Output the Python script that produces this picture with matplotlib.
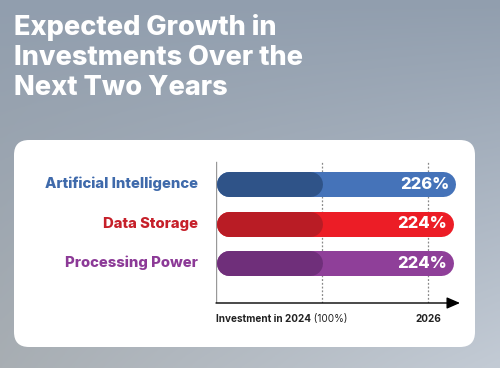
import matplotlib.pyplot as plt
import numpy as np
from matplotlib.patches import FancyBboxPatch

categories = ["Artificial Intelligence", "Data Storage", "Processing Power"]
values = [226, 224, 224]
base_value = 100
target_line = 200
dark_colors = ["#2f5388", "#b91c25", "#6f2f7a"]
light_colors = ["#4573b9", "#ec1d26", "#8f3f99"]
label_colors = ["#3f6aab", "#c6202a", "#8c3a97"]
title_lines = ["Expected Growth in", "Investments Over the", "Next Two Years"]

W, H = 500, 368
fig = plt.figure(figsize=(W / 100, H / 100), dpi=100)

# background gradient
bg = fig.add_axes([0, 0, 1, 1])
yy, xx = np.mgrid[0:1:200j, 0:1:200j]
top = np.array([0x91, 0x9e, 0xae]) / 255
bot_l = np.array([0xa8, 0xae, 0xb3]) / 255
bot_r = np.array([0xc3, 0xcb, 0xd5]) / 255
bottom = bot_l[None, None, :] * (1 - xx[..., None]) + bot_r[None, None, :] * xx[..., None]
grad = top[None, None, :] * (1 - yy[..., None]) + bottom * yy[..., None]
bg.imshow(grad, extent=[0, W, H, 0], aspect="auto")
bg.set_xlim(0, W)
bg.set_ylim(H, 0)
bg.axis("off")

# white card
card = FancyBboxPatch((14 + 15, 140 + 15), 461 - 30, 207 - 30,
                      boxstyle="round,pad=15", fc="white", ec="none")
bg.add_patch(card)

for i, line in enumerate(title_lines):
    bg.text(14, 35 + 30 * i, line, color="white", fontsize=19.5, fontweight="heavy",
            family="Inter", va="baseline")

# chart axes
x0, x1 = 216, 460
ytop, ybot = 160, 303
ax = fig.add_axes([x0 / W, (H - ybot) / H, (x1 - x0) / W, (ybot - ytop) / H])
ax.patch.set_alpha(0)
px_per_unit = (322 - 216) / base_value
ax.set_xlim(0, (x1 - x0) / px_per_unit)
ypos = np.arange(len(categories))[::-1]
ax.set_ylim(-1.01, 2.61)
for s in ax.spines.values():
    s.set_visible(False)
ax.set_xticks([])
ax.set_yticks([])

bar_px = 25
r = (bar_px / 2) / px_per_unit
lw = bar_px * 72 / 100
for y, v, dc, lc in zip(ypos, values, dark_colors, light_colors):
    ax.plot([r, v - r], [y, y], color=lc, lw=lw, solid_capstyle="round", zorder=3)
    ax.plot([r, base_value - r], [y, y], color=dc, lw=lw, solid_capstyle="round", zorder=4)
    ax.text(v - 6, y, f"{v}%", color="white", fontsize=12, fontweight="heavy",
            family="Inter", ha="right", va="center", zorder=5)

for xv in [base_value, target_line]:
    ax.axvline(xv, color="#888888", lw=0.9, ls=(0, (1.5, 1.5)), ymin=0, ymax=0.985, zorder=2)

ax.axvline(0, color="#999999", lw=1, ymin=0, ymax=0.985, zorder=2)
ax.annotate("", xy=(1.0, 0), xycoords="axes fraction", xytext=(0, 0),
            arrowprops=dict(arrowstyle="-|>,head_length=0.8,head_width=0.35",
                            color="black", lw=1, shrinkA=0, shrinkB=0))

# labels on the left
for y, cat, c in zip(ypos, categories, label_colors):
    ax.text(-17, y, cat, color=c, fontsize=10.7, fontweight="heavy", family="Inter",
            ha="right", va="center", clip_on=False)

t1 = bg.text(216, 322, "Investment in 2024", fontsize=7.2, fontweight="bold",
             family="Inter", color="#222222", va="baseline")
bg.annotate(" (100%)", xy=(1, 0), xycoords=t1, fontsize=7.2, family="Inter",
            color="#222222", va="bottom", ha="left")
bg.text(428, 322, "2026", fontsize=7.2, fontweight="bold", family="Inter",
        color="#222222", va="baseline", ha="center")

fig.savefig("out.png", dpi=100)
